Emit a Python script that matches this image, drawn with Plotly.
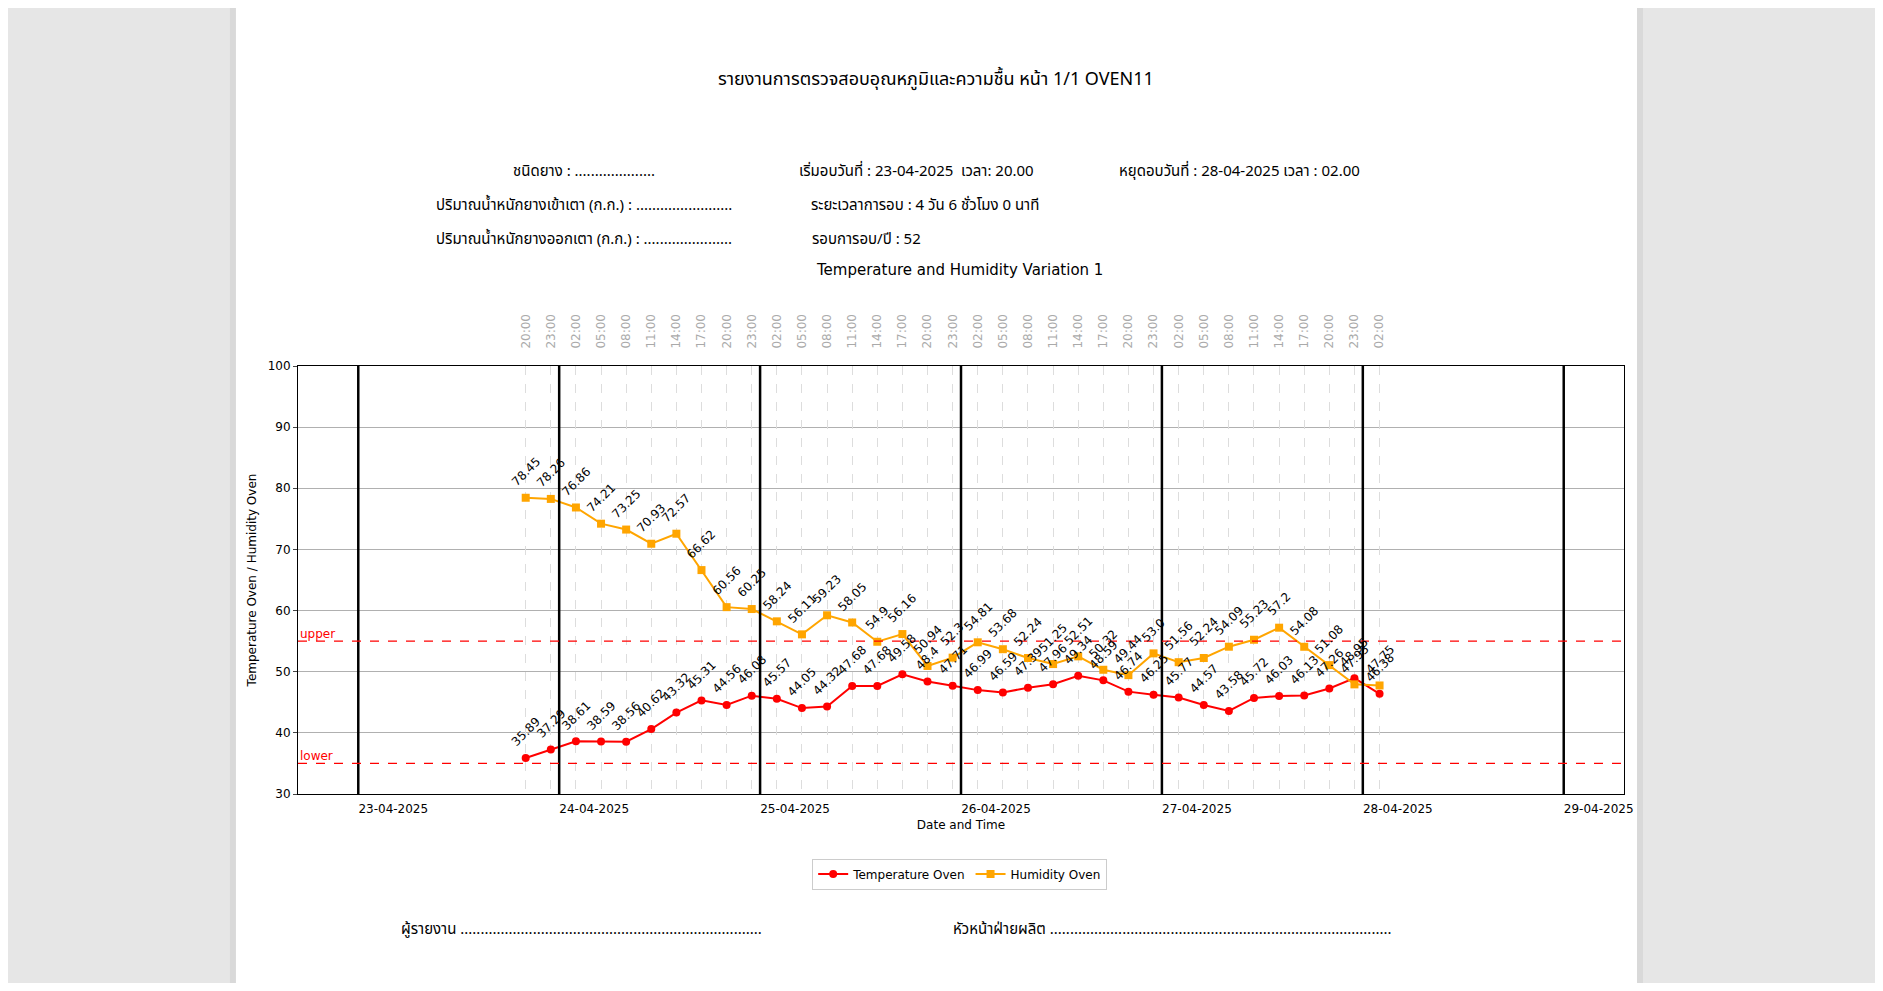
import plotly.graph_objects as go

# ---------------- data ----------------
times = [
    "2025-04-23 20:00", "2025-04-23 23:00",
    "2025-04-24 02:00", "2025-04-24 05:00", "2025-04-24 08:00", "2025-04-24 11:00",
    "2025-04-24 14:00", "2025-04-24 17:00", "2025-04-24 20:00", "2025-04-24 23:00",
    "2025-04-25 02:00", "2025-04-25 05:00", "2025-04-25 08:00", "2025-04-25 11:00",
    "2025-04-25 14:00", "2025-04-25 17:00", "2025-04-25 20:00", "2025-04-25 23:00",
    "2025-04-26 02:00", "2025-04-26 05:00", "2025-04-26 08:00", "2025-04-26 11:00",
    "2025-04-26 14:00", "2025-04-26 17:00", "2025-04-26 20:00", "2025-04-26 23:00",
    "2025-04-27 02:00", "2025-04-27 05:00", "2025-04-27 08:00", "2025-04-27 11:00",
    "2025-04-27 14:00", "2025-04-27 17:00", "2025-04-27 20:00", "2025-04-27 23:00",
    "2025-04-28 02:00",
]
temperature = [
    35.89, 37.29,
    38.61, 38.59, 38.56, 40.62, 43.32, 45.31, 44.56, 46.08,
    45.57, 44.05, 44.32, 47.68, 47.68, 49.58, 48.4, 47.71,
    46.99, 46.59, 47.39, 47.96, 49.34, 48.59, 46.74, 46.25,
    45.77, 44.57, 43.58, 45.72, 46.03, 46.13, 47.26, 48.95,
    46.38,
]
humidity = [
    78.45, 78.26,
    76.86, 74.21, 73.25, 70.93, 72.57, 66.62, 60.56, 60.25,
    58.24, 56.11, 59.23, 58.05, 54.9, 56.16, 50.94, 52.3,
    54.81, 53.68, 52.24, 51.25, 52.51, 50.32, 49.44, 53.0,
    51.56, 52.24, 54.09, 55.23, 57.2, 54.08, 51.08, 47.93,
    47.75,
]
hour_labels = [t[11:16] for t in times]
day_marks = ["2025-04-23", "2025-04-24", "2025-04-25", "2025-04-26",
             "2025-04-27", "2025-04-28", "2025-04-29"]
day_labels = ["23-04-2025", "24-04-2025", "25-04-2025", "26-04-2025",
              "27-04-2025", "28-04-2025", "29-04-2025"]
x_range = ["2025-04-22 16:48", "2025-04-29 07:12"]
y_ticks = [30, 40, 50, 60, 70, 80, 90, 100]
UPPER = 55
LOWER = 35

title_text = "รายงานการตรวจสอบอุณหภูมิและความชื้น หน้า 1/1 OVEN11"
chart_title = "Temperature and Humidity Variation 1"

THAI = "Noto Sans Thai, Noto Sans Thai UI, Noto Sans, sans-serif"
DV = "DejaVu Sans"

fig = go.Figure()

fig.add_trace(go.Scatter(
    x=times, y=temperature, mode="lines+markers", name="Temperature Oven",
    line=dict(color="#ff0000", width=2),
    marker=dict(symbol="circle", size=8, color="#ff0000"),
))
fig.add_trace(go.Scatter(
    x=times, y=humidity, mode="lines+markers", name="Humidity Oven",
    line=dict(color="#ffa500", width=2),
    marker=dict(symbol="square", size=8, color="#ffa500"),
))
# helper trace so the top (hour) axis is drawn
fig.add_trace(go.Scatter(
    x=times, y=temperature, xaxis="x2", mode="markers",
    marker=dict(opacity=0), showlegend=False, hoverinfo="skip",
))

shapes = []
# white page with a soft shadow
shapes.append(dict(type="rect", xref="paper", yref="paper", x0=-0.0513, x1=1.0143,
                   y0=-0.6, y1=2.0, fillcolor="#d9d9d9", line=dict(width=0), layer="below"))
shapes.append(dict(type="rect", xref="paper", yref="paper", x0=-0.0468, x1=1.0098,
                   y0=-0.6, y1=2.0, fillcolor="#ffffff", line=dict(width=0), layer="below"))
# day boundaries
for d in day_marks:
    shapes.append(dict(type="line", xref="x", yref="paper", x0=d, x1=d, y0=0, y1=1,
                       line=dict(color="black", width=2.5)))
# limits
for v in (UPPER, LOWER):
    shapes.append(dict(type="line", xref="paper", yref="y", x0=0, x1=1, y0=v, y1=v,
                       line=dict(color="#ff0000", width=1.2, dash="dash")))

ann = []
ann.append(dict(text=title_text, xref="paper", yref="paper", x=0.481, y=1.706,
                xanchor="center", showarrow=False,
                font=dict(family=THAI, size=18, color="black")))
info = [
    ("ชนิดยาง : ....................", 0.2157, 1.486, "center"),
    ("เริ่มอบวันที่ : 23-04-2025  เวลา: 20.00", 0.376, 1.486, "left"),
    ("หยุดอบวันที่ : 28-04-2025 เวลา : 02.00", 0.618, 1.486, "left"),
    ("ปริมาณน้ำหนักยางเข้าเตา (ก.ก.) : ........................", 0.2157, 1.407, "center"),
    ("ระยะเวลาการอบ : 4 วัน 6 ชั่วโมง 0 นาที", 0.385, 1.407, "left"),
    ("ปริมาณน้ำหนักยางออกเตา (ก.ก.) : ......................", 0.2157, 1.327, "center"),
    ("รอบการอบ/ปี : 52", 0.386, 1.327, "left"),
]
for t, x, y, xa in info:
    ann.append(dict(text=t, xref="paper", yref="paper", x=x, y=y, xanchor=xa,
                    showarrow=False, font=dict(family=THAI, size=15, color="black")))
ann.append(dict(text=chart_title, xref="paper", yref="paper", x=0.499, y=1.249,
                xanchor="center", showarrow=False,
                font=dict(family=DV, size=15, color="black")))
ann.append(dict(text="upper", xref="paper", yref="y", x=0.0, y=UPPER, xanchor="left",
                yanchor="bottom", yshift=-2, showarrow=False,
                font=dict(family=DV, size=12, color="#ff0000")))
ann.append(dict(text="lower", xref="paper", yref="y", x=0.0, y=LOWER, xanchor="left",
                yanchor="bottom", yshift=-2, showarrow=False,
                font=dict(family=DV, size=12, color="#ff0000")))
ann.append(dict(text="ผู้รายงาน ...........................................................................",
                xref="paper", yref="paper", x=0.214, y=-0.349, xanchor="center", showarrow=False,
                font=dict(family=THAI, size=15, color="black")))
ann.append(dict(text="หัวหน้าฝ่ายผลิต .....................................................................................",
                xref="paper", yref="paper", x=0.659, y=-0.349, xanchor="center", showarrow=False,
                font=dict(family=THAI, size=15, color="black")))
# data labels
for series in (temperature, humidity):
    for t, v in zip(times, series):
        ann.append(dict(text=str(v), x=t, y=v, xref="x", yref="y", showarrow=False,
                        textangle=-45, xanchor="center", yanchor="bottom", yshift=6,
                        font=dict(family=DV, size=12, color="black")))

fig.update_layout(
    width=1867, height=975,
    margin=dict(l=290, r=251, t=358, b=189),
    paper_bgcolor="#e6e6e6",
    plot_bgcolor="white",
    font=dict(family=DV, size=12, color="black"),
    shapes=shapes,
    annotations=ann,
    showlegend=True,
    legend=dict(orientation="h", x=0.499, y=-0.187, xanchor="center", yanchor="middle",
                bordercolor="#cccccc", borderwidth=1, bgcolor="white",
                font=dict(family=DV, size=12)),
    xaxis=dict(type="date", range=x_range, tickvals=day_marks, ticktext=day_labels,
               ticklabelshift=35, ticklabelstandoff=4, showgrid=False, zeroline=False,
               showline=True, mirror=True, linecolor="black", linewidth=1,
               ticks="", tickfont=dict(family=DV, size=12),
               title=dict(text="Date and Time", font=dict(family=DV, size=12), standoff=5)),
    xaxis2=dict(type="date", overlaying="x", side="top", matches="x",
                tickvals=times, ticktext=hour_labels, tickangle=-90,
                tickfont=dict(family=DV, size=12, color="#aaaaaa"),
                showgrid=True, gridcolor="#dddddd", griddash="dash", gridwidth=1,
                ticks="outside", ticklen=14, tickcolor="rgba(0,0,0,0)",
                showline=False, zeroline=False),
    yaxis=dict(range=[30, 100], tickvals=y_ticks, gridcolor="#b0b0b0", gridwidth=1,
               showline=True, mirror=True, linecolor="black", linewidth=1,
               ticks="outside", ticklen=4, zeroline=False,
               tickfont=dict(family=DV, size=12),
               title=dict(text="Temperature Oven / Humidity Oven",
                          font=dict(family=DV, size=12), standoff=8)),
)

fig.write_html("out.html")
